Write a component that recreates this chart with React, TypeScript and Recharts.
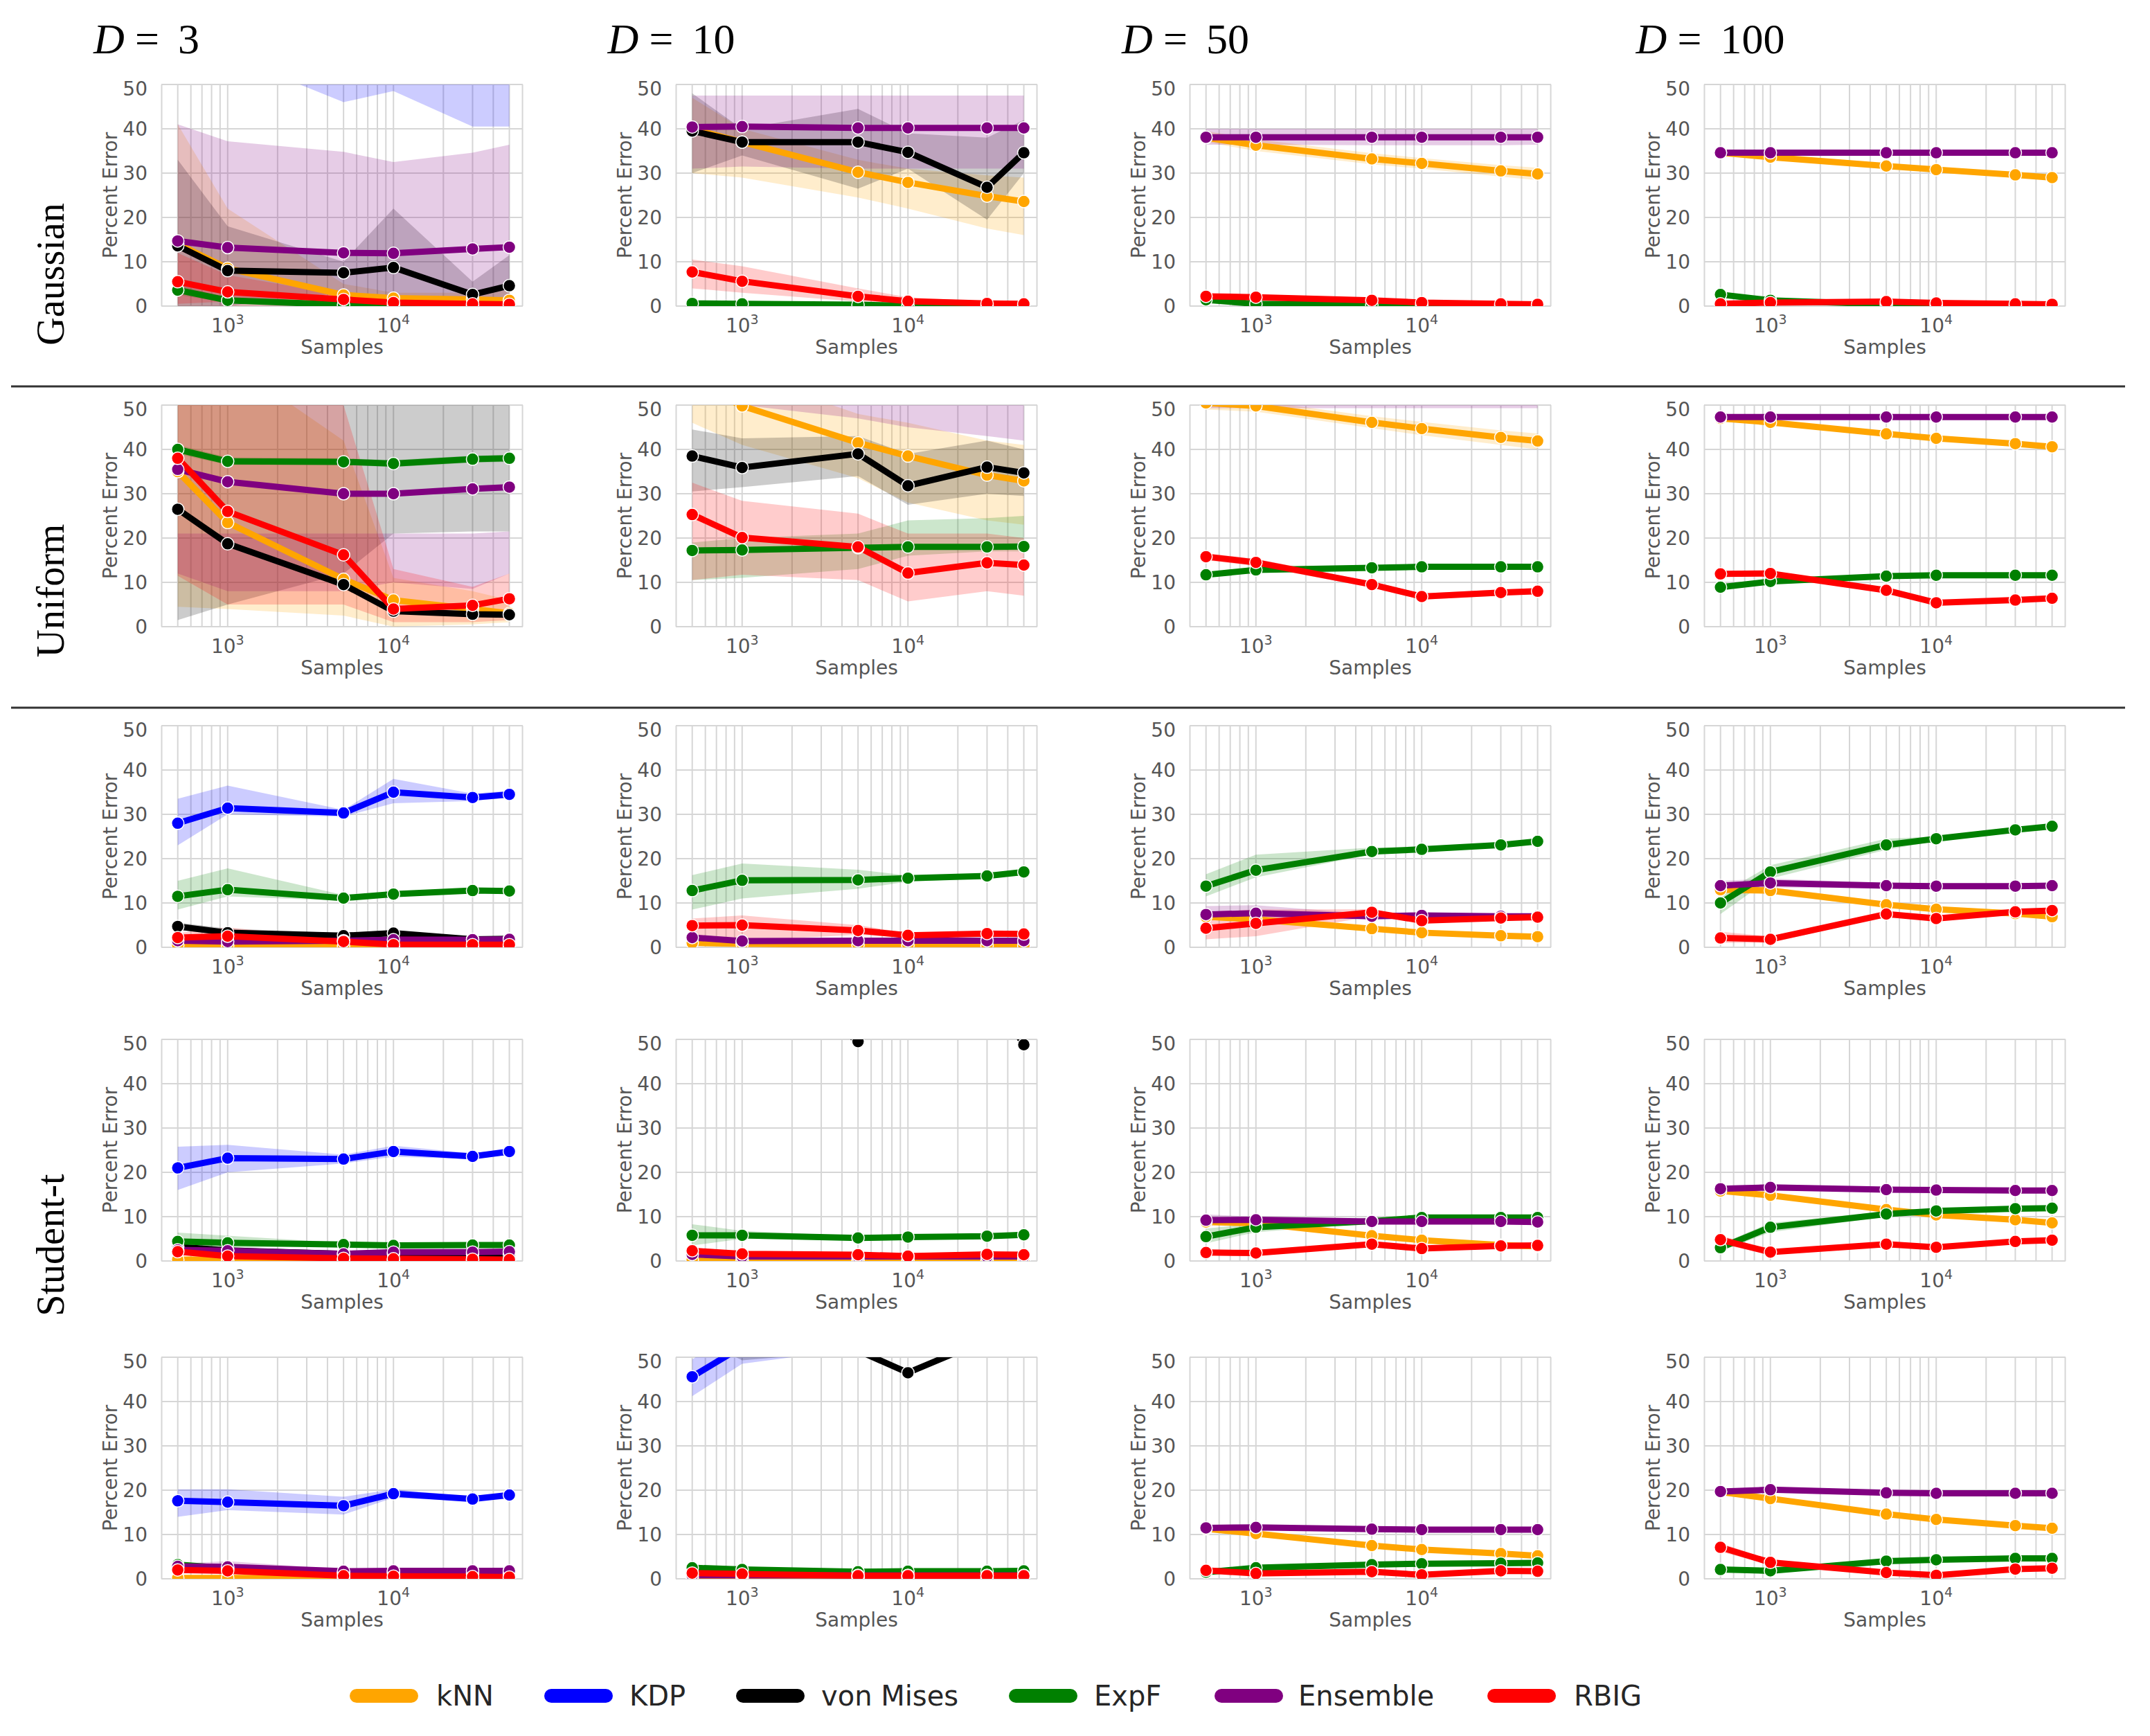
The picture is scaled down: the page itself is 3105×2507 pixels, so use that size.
import { ComposedChart, Line, Area, XAxis, YAxis, CartesianGrid } from 'recharts'

// sample sizes on the x axis
const samples = [500, 1000, 5000, 10000, 30000, 50000]

// every point is [mean, low, high] (band), or [mean] when no band shows
type Pts = number[][]
type PanelData = { knn?: Pts; kdp?: Pts; vm?: Pts; expf?: Pts; ens?: Pts; rbig?: Pts }

// ---- Gaussian ----
const g3: PanelData = {
    knn: [[14, 0, 41], [8.5, 0, 22], [2.5, 0, 5], [1.8, 0, 3], [1.5, 0, 3], [1.3, 0, 3.5]],
    kdp: [[85, 70, 100], [72, 56.6, 90], [62, 46, 80], [64, 48.5, 82], [58, 40.5, 78], [58, 40.5, 78]],
    vm: [[13.6, 0, 33], [8, 0, 18], [7.5, 3, 10], [8.7, 0, 22], [2.6, 0, 5.5], [4.6, 0, 11.5]],
    expf: [[3.6, 2.5, 4.8], [1.3, 0.8, 1.8], [0.3, 0, 0.6], [0.1, 0, 0.3], [0.1, 0, 0.2], [0.1, 0, 0.2]],
    ens: [[14.7, 0, 41], [13.2, 0, 37.2], [12, 0, 34.8], [11.9, 0, 32.5], [12.9, 0, 34.6], [13.3, 0, 36.4]],
    rbig: [[5.5, 0.5, 12], [3.2, 1, 7], [1.5, 0.8, 2.5], [0.8, 0.3, 1.4], [0.5, 0.2, 0.9], [0.4, 0.1, 0.7]],
}
const g10: PanelData = {
    knn: [[40, 30, 47], [37, 29, 40], [30.2, 24.5, 33], [27.9, 22, 31], [24.8, 17.5, 29.5], [23.6, 16, 29]],
    vm: [[39.5, 30, 48], [37, 34, 40], [37, 26.5, 44.5], [34.7, 31, 39], [26.8, 19.5, 38], [34.6, 30, 42]],
    expf: [[0.6, 0.2, 1], [0.5, 0.2, 0.8], [0.3, 0, 0.6], [0.1, 0, 0.3], [0.1, 0, 0.2], [0.1, 0, 0.2]],
    ens: [[40.4, 31, 47.5], [40.5, 31.5, 47.5], [40.2, 31, 47.5], [40.2, 31, 47.5], [40.2, 31, 47.5], [40.2, 31, 47.5]],
    rbig: [[7.7, 4, 10.5], [5.6, 3, 9], [2.2, 1, 4], [1.1, 0.5, 2], [0.6, 0.2, 1], [0.5, 0.2, 0.8]],
}
const g50: PanelData = {
    knn: [[38, 37, 39.5], [36.3, 35, 37.6], [33.2, 32, 34.5], [32.2, 31, 33.4], [30.5, 29.2, 31.8], [29.8, 28.4, 31.2]],
    expf: [[1.4, 1, 1.9], [0.5, 0.2, 0.8], [0.3, 0.1, 0.5], [0.1, 0, 0.3], [0.1, 0, 0.2], [0.1, 0, 0.2]],
    ens: [[38.1, 36.4, 40], [38.1, 36.4, 40], [38.1, 36.3, 40], [38.1, 36.3, 40], [38.1, 36.3, 40], [38.1, 36.4, 40]],
    rbig: [[2.2, 1.6, 2.8], [2, 1.4, 2.6], [1.3, 0.9, 1.7], [0.8, 0.5, 1.1], [0.5, 0.3, 0.7], [0.4, 0.2, 0.6]],
}
const g100: PanelData = {
    knn: [[34.6, 34, 35.2], [33.6, 33, 34.2], [31.6, 31, 32.2], [30.8, 30.2, 31.4], [29.6, 29, 30.2], [29, 28.4, 29.6]],
    expf: [[2.6, 2, 3.2], [1.3, 0.9, 1.7], [0.4, 0.2, 0.6], [0.2, 0.1, 0.4], [0.1, 0, 0.3], [0.1, 0, 0.2]],
    ens: [[34.6, 33.9, 35.3], [34.6, 33.9, 35.3], [34.6, 33.9, 35.3], [34.6, 33.9, 35.3], [34.6, 33.9, 35.3], [34.6, 33.9, 35.3]],
    rbig: [[0.5, 0.3, 0.8], [0.8, 0.5, 1.1], [1, 0.7, 1.3], [0.7, 0.5, 0.9], [0.5, 0.3, 0.7], [0.4, 0.2, 0.6]],
}

// ---- Uniform ----
const u3: PanelData = {
    knn: [[35, 4.5, 60], [23.5, 4, 60], [10.7, 2.5, 42], [6, 0, 11], [4, 0.5, 8], [3, 1, 6]],
    vm: [[26.5, 1.5, 60], [18.7, 5, 60], [9.5, 12, 60], [3.5, 21, 60], [2.8, 21.5, 60], [2.7, 21.5, 60]],
    expf: [[40, 39, 41], [37.3, 36.5, 38.2], [37.2, 36.5, 38], [36.8, 36, 37.6], [37.8, 37, 38.6], [38, 37.2, 38.8]],
    ens: [[35.5, 12, 21], [32.7, 8, 21], [30, 8, 21], [30, 10, 21], [31.1, 8.5, 21], [31.5, 12, 21.5]],
    rbig: [[38, 11.5, 60], [26, 5, 60], [16.2, 5, 50], [4, 1, 13], [4.8, 1, 9], [6.3, 1.5, 12]],
}
const u10: PanelData = {
    knn: [[55, 46, 62], [49.8, 41, 57], [41.5, 33.5, 48], [38.5, 28, 46], [34.2, 24, 42], [32.9, 23, 41]],
    vm: [[38.5, 30.5, 44.5], [35.9, 31.5, 42.5], [39, 34, 43], [31.8, 27.5, 39], [36, 30, 42], [34.7, 29.5, 40]],
    expf: [[17.2, 10.5, 19], [17.3, 11, 20], [17.8, 13, 21], [18, 16, 24], [18, 17, 24.5], [18.1, 17, 25]],
    ens: [[65, 55, 80], [63, 50, 78], [62, 47, 76], [62, 45, 76], [62, 43, 76], [62, 42, 76]],
    rbig: [[25.3, 10.5, 32.5], [20.1, 11.7, 28.4], [18, 10.5, 25.5], [12.1, 5.7, 21], [14.4, 8, 21], [13.9, 7, 20]],
}
const u50: PanelData = {
    knn: [[50.5, 49, 52], [49.8, 48.5, 51], [46.1, 44.8, 47.5], [44.7, 43.2, 46.2], [42.7, 41, 44.3], [41.9, 40, 43.6]],
    expf: [[11.7, 11.2, 12.2], [12.8, 12.3, 13.3], [13.3, 12.8, 13.8], [13.5, 13, 14], [13.5, 13, 14], [13.5, 13, 14]],
    ens: [[52, 49.3, 55], [52, 49.3, 55], [52, 49.3, 55], [52, 49.3, 55], [52, 49.3, 55], [52, 49.3, 55]],
    rbig: [[15.8, 15, 16.6], [14.5, 13.7, 15.3], [9.5, 8.8, 10.2], [6.8, 6.1, 7.5], [7.7, 7, 8.4], [8, 7.3, 8.7]],
}
const u100: PanelData = {
    knn: [[47, 46.5, 47.5], [46.1, 45.6, 46.6], [43.5, 43, 44], [42.5, 42, 43], [41.3, 40.8, 41.8], [40.6, 40.1, 41.1]],
    expf: [[8.9, 8.4, 9.4], [10.2, 9.7, 10.7], [11.4, 10.9, 11.9], [11.6, 11.1, 12.1], [11.6, 11.1, 12.1], [11.6, 11.1, 12.1]],
    ens: [[47.3, 46.8, 47.8], [47.3, 46.8, 47.8], [47.3, 46.8, 47.8], [47.3, 46.8, 47.8], [47.3, 46.8, 47.8], [47.3, 46.8, 47.8]],
    rbig: [[11.9, 11.4, 12.4], [12, 11.5, 12.5], [8.2, 7.7, 8.7], [5.4, 4.9, 5.9], [6, 5.5, 6.5], [6.4, 5.9, 6.9]],
}

// ---- Student-t (three rows) ----
const sa3: PanelData = {
    knn: [[0.5, 0, 1], [0.4, 0, 0.8], [0.3, 0, 0.6], [0.2, 0, 0.5], [0.2, 0, 0.4], [0.2, 0, 0.4]],
    kdp: [[28, 23, 33.5], [31.4, 30, 36.5], [30.3, 29.5, 31], [35, 32.5, 38], [33.8, 33, 34.7], [34.5, 33.8, 35.3]],
    vm: [[4.7, 4, 5.6], [3.3, 2.6, 4.2], [2.6, 2, 3.2], [3.2, 2.5, 3.9], [1.8, 1.4, 2.2], [1.9, 1.5, 2.3]],
    expf: [[11.5, 8.5, 15], [13, 11.5, 17.8], [11.1, 10.5, 11.8], [12, 11.5, 12.5], [12.8, 12.3, 13.3], [12.7, 12.2, 13.2]],
    ens: [[1.5, 1, 2], [1.3, 0.9, 1.8], [1.5, 1.1, 1.9], [1.7, 1.3, 2.1], [1.7, 1.3, 2.1], [1.8, 1.4, 2.2]],
    rbig: [[2.2, 1.2, 3.2], [2.5, 1, 4.5], [1.3, 0.8, 1.8], [0.6, 0.3, 0.9], [0.6, 0.3, 0.9], [0.6, 0.3, 0.9]],
}
const sa10: PanelData = {
    knn: [[1, 0.5, 1.5], [0.8, 0.4, 1.2], [0.6, 0.3, 0.9], [0.5, 0.2, 0.8], [0.4, 0.2, 0.6], [0.4, 0.2, 0.6]],
    expf: [[12.8, 8.5, 16.3], [15.1, 11, 18.9], [15.2, 13.2, 17.5], [15.6, 14.8, 16.2], [16.1, 15.6, 16.6], [17, 16.5, 17.5]],
    ens: [[2.2, 1.5, 3], [1.4, 1, 1.8], [1.5, 1.1, 1.9], [1.5, 1.1, 1.9], [1.5, 1.1, 1.9], [1.5, 1.1, 1.9]],
    rbig: [[4.9, 2, 6.5], [5, 1.5, 7.2], [3.8, 2.8, 5], [2.7, 2.2, 3.2], [3.1, 2.6, 3.6], [3, 2.5, 3.5]],
}
const sa50: PanelData = {
    knn: [[6.9, 6.2, 7.6], [6.3, 5.6, 7], [4.2, 3.6, 4.8], [3.3, 2.8, 3.8], [2.6, 2.1, 3.1], [2.4, 1.9, 2.9]],
    expf: [[13.8, 11.5, 16.5], [17.4, 15.8, 20.9], [21.6, 21, 22.5], [22.1, 21.6, 22.6], [23.1, 22.6, 23.6], [23.9, 23.4, 24.4]],
    ens: [[7.4, 6, 9.3], [7.7, 6.5, 9.5], [7, 6.5, 7.5], [7.2, 6.7, 7.7], [7, 6.5, 7.5], [7, 6.5, 7.5]],
    rbig: [[4.3, 1.8, 8], [5.4, 2.5, 8.5], [7.9, 7, 8.6], [6, 5.5, 6.5], [6.6, 6.1, 7.1], [6.8, 6.3, 7.3]],
}
const sa100: PanelData = {
    knn: [[13, 12.2, 13.8], [12.8, 12, 13.6], [9.6, 9, 10.2], [8.6, 8, 9.2], [7.6, 7, 8.2], [6.9, 6.3, 7.5]],
    expf: [[10, 7.5, 12], [17, 15.5, 18.5], [23.1, 22, 24.5], [24.5, 24, 25], [26.5, 26, 27], [27.3, 26.8, 27.8]],
    ens: [[13.9, 13, 15], [14.5, 13.5, 15.5], [13.9, 13.3, 14.5], [13.8, 13.2, 14.4], [13.8, 13.2, 14.4], [13.9, 13.3, 14.5]],
    rbig: [[2.1, 1, 3.5], [1.8, 1, 2.5], [7.5, 7, 8], [6.5, 6, 7], [8, 7.5, 8.5], [8.3, 7.8, 8.8]],
}
const sb3: PanelData = {
    knn: [[0.3, 0, 0.6], [0.3, 0, 0.5], [0.2, 0, 0.4], [0.2, 0, 0.4], [0.2, 0, 0.4], [0.2, 0, 0.4]],
    kdp: [[21, 16, 25.8], [23.2, 20, 26.2], [23, 22, 24], [24.7, 23.5, 26], [23.6, 23, 24.3], [24.7, 24, 25.3]],
    vm: [[3.2, 2.6, 3.8], [2.4, 1.9, 2.9], [1.6, 1.2, 2], [1.6, 1.2, 2], [1.5, 1.1, 1.9], [1.5, 1.1, 1.9]],
    expf: [[4.4, 3, 6.4], [4.1, 3, 5.7], [3.7, 3.3, 4.1], [3.5, 3.1, 3.9], [3.6, 3.2, 4], [3.6, 3.2, 4]],
    ens: [[2.5, 2, 3], [2.3, 1.8, 2.8], [1.6, 1.2, 2], [2, 1.6, 2.4], [2, 1.6, 2.4], [2.1, 1.7, 2.5]],
    rbig: [[2.1, 1.5, 2.7], [1.1, 0.7, 1.5], [0.6, 0.3, 0.9], [0.5, 0.2, 0.8], [0.4, 0.2, 0.6], [0.3, 0.1, 0.5]],
}
const sb10: PanelData = {
    knn: [[0.3, 0, 0.6], [0.3, 0, 0.5], [0.2, 0, 0.4], [0.2, 0, 0.4], [0.2, 0, 0.4], [0.2, 0, 0.4]],
    vm: [[75], [70], [49.5], [68], [62], [48.8]],
    expf: [[5.8, 3.5, 8.3], [5.8, 5, 6.8], [5.2, 4.8, 5.6], [5.4, 5, 5.8], [5.6, 5.2, 6], [5.9, 5.5, 6.3]],
    ens: [[1.5, 1, 2], [1, 0.7, 1.3], [1, 0.7, 1.3], [1, 0.7, 1.3], [1, 0.7, 1.3], [1, 0.7, 1.3]],
    rbig: [[2.3, 1.5, 3.1], [1.6, 1.1, 2.1], [1.4, 1, 1.8], [1.1, 0.8, 1.4], [1.5, 1.1, 1.9], [1.4, 1, 1.8]],
}
const sb50: PanelData = {
    knn: [[8.8, 8.2, 9.4], [8.5, 7.9, 9.1], [5.7, 5.2, 6.2], [4.7, 4.2, 5.2], [3.6, 3.1, 4.1], [3.3, 2.8, 3.8]],
    expf: [[5.5, 4, 7.3], [7.6, 6.5, 8.5], [9, 8.5, 9.5], [9.8, 9.4, 10.2], [9.8, 9.4, 10.2], [9.8, 9.4, 10.2]],
    ens: [[9.2, 8, 10.5], [9.3, 8.6, 10], [8.9, 8.4, 9.4], [8.9, 8.4, 9.4], [8.9, 8.4, 9.4], [8.8, 8.3, 9.3]],
    rbig: [[1.9, 1.4, 2.4], [1.8, 1.3, 2.3], [3.8, 3.3, 4.3], [2.8, 2.3, 3.3], [3.4, 2.9, 3.9], [3.5, 3, 4]],
}
const sb100: PanelData = {
    knn: [[15.8, 15.2, 16.4], [14.8, 14.2, 15.4], [11.6, 11, 12.2], [10.4, 9.8, 11], [9.3, 8.7, 9.9], [8.6, 8, 9.2]],
    expf: [[3, 2.2, 3.8], [7.6, 6.5, 8.6], [10.6, 10, 11.2], [11.3, 10.8, 11.8], [11.8, 11.3, 12.3], [11.9, 11.4, 12.4]],
    ens: [[16.3, 15.6, 17], [16.6, 15.9, 17.3], [16.1, 15.6, 16.6], [16, 15.5, 16.5], [15.9, 15.4, 16.4], [15.9, 15.4, 16.4]],
    rbig: [[4.8, 3.8, 5.8], [2, 1.5, 2.5], [3.8, 3.3, 4.3], [3.1, 2.6, 3.6], [4.4, 3.9, 4.9], [4.7, 4.2, 5.2]],
}
const sc3: PanelData = {
    knn: [[0.2, 0, 0.4], [0.2, 0, 0.4], [0.2, 0, 0.4], [0.2, 0, 0.4], [0.2, 0, 0.4], [0.2, 0, 0.4]],
    kdp: [[17.6, 14, 20.2], [17.3, 15.5, 20.2], [16.5, 14.5, 18.5], [19.2, 18.3, 20.2], [18, 17.5, 18.5], [18.9, 18.5, 19.3]],
    vm: [[2.5, 2, 3], [2.2, 1.7, 2.7], [1.2, 0.8, 1.6], [1.2, 0.8, 1.6], [1.1, 0.7, 1.5], [1.1, 0.7, 1.5]],
    expf: [[3.2, 2.7, 3.7], [2.4, 1.9, 2.9], [1.4, 1, 1.8], [1.5, 1.1, 1.9], [1.4, 1, 1.8], [1.4, 1, 1.8]],
    ens: [[2.8, 2.2, 3.4], [2.7, 1.5, 4], [1.7, 1.3, 2.1], [1.8, 1.4, 2.2], [1.8, 1.4, 2.2], [1.8, 1.4, 2.2]],
    rbig: [[2, 1.5, 2.5], [1.8, 1.3, 2.3], [0.7, 0.4, 1], [0.6, 0.3, 0.9], [0.5, 0.2, 0.8], [0.4, 0.1, 0.7]],
}
const sc10: PanelData = {
    knn: [[0.3, 0, 0.6], [0.3, 0, 0.5], [0.2, 0, 0.4], [0.2, 0, 0.4], [0.2, 0, 0.4], [0.2, 0, 0.4]],
    kdp: [[45.6, 41.2, 49.5], [52.4, 48.5, 57], [56, 52, 60], [56, 52, 60], [56, 52, 60], [56, 52, 60]],
    vm: [[62, 55, 70], [58, 49.3, 66], [51.5, 51.5, 60], [46.5, 51, 60], [54, 52, 60], [55, 52, 60]],
    expf: [[2.5, 2, 3], [2.1, 1.6, 2.6], [1.6, 1.2, 2], [1.7, 1.3, 2.1], [1.7, 1.3, 2.1], [1.8, 1.4, 2.2]],
    ens: [[0.8, 0.5, 1.1], [0.8, 0.5, 1.1], [0.8, 0.5, 1.1], [0.8, 0.5, 1.1], [0.8, 0.5, 1.1], [0.8, 0.5, 1.1]],
    rbig: [[1.3, 0.8, 1.8], [1.1, 0.7, 1.5], [0.7, 0.4, 1], [0.7, 0.4, 1], [0.7, 0.4, 1], [0.7, 0.4, 1]],
}
const sc50: PanelData = {
    knn: [[11.3, 10.7, 11.9], [10.2, 9.6, 10.8], [7.5, 6.9, 8.1], [6.6, 6, 7.2], [5.7, 5.1, 6.3], [5.2, 4.6, 5.8]],
    expf: [[1.5, 1, 2], [2.5, 2, 3], [3.2, 2.8, 3.6], [3.4, 3, 3.8], [3.5, 3.1, 3.9], [3.6, 3.2, 4]],
    ens: [[11.5, 10.9, 12.1], [11.6, 11, 12.2], [11.2, 10.7, 11.7], [11.1, 10.6, 11.6], [11.1, 10.6, 11.6], [11.1, 10.6, 11.6]],
    rbig: [[1.9, 1.2, 2.6], [1.2, 0.8, 1.6], [1.6, 1.2, 2], [0.9, 0.6, 1.2], [1.8, 1.4, 2.2], [1.7, 1.3, 2.1]],
}
const sc100: PanelData = {
    knn: [[19.6, 19, 20.2], [18.1, 17.5, 18.7], [14.6, 14, 15.2], [13.4, 12.8, 14], [12, 11.4, 12.6], [11.4, 10.8, 12]],
    expf: [[2.1, 1.6, 2.6], [1.8, 1.3, 2.3], [4, 3.5, 4.5], [4.3, 3.8, 4.8], [4.6, 4.1, 5.1], [4.6, 4.1, 5.1]],
    ens: [[19.7, 19.1, 20.3], [20.1, 19.5, 20.7], [19.4, 18.9, 19.9], [19.3, 18.8, 19.8], [19.3, 18.8, 19.8], [19.3, 18.8, 19.8]],
    rbig: [[7.1, 6.1, 8.1], [3.7, 3.2, 4.2], [1.4, 1, 1.8], [0.8, 0.5, 1.1], [2.2, 1.8, 2.6], [2.4, 2, 2.8]],
}

const grid = [
    [g3, g10, g50, g100],
    [u3, u10, u50, u100],
    [sa3, sa10, sa50, sa100],
    [sb3, sb10, sb50, sb100],
    [sc3, sc10, sc50, sc100],
]

const dims = ['3', '10', '50', '100']
const rowNames = [{ name: 'Gaussian', y: 396 }, { name: 'Uniform', y: 853 }, { name: 'Student-t', y: 1798 }]

const seriesKeys = ['knn', 'kdp', 'vm', 'expf', 'ens', 'rbig'] as const
const seriesNames = ['kNN', 'KDP', 'von Mises', 'ExpF', 'Ensemble', 'RBIG']
const seriesColors = ['#FFA500', '#0000FF', '#000000', '#008000', '#800080', '#FF0000']

const yTicks = [0, 10, 20, 30, 40, 50]
const xTicks = [1000, 10000]
const minorTicks = [400, 500, 600, 700, 800, 900, 1000, 2000, 3000, 4000, 5000, 6000, 7000, 8000, 9000,
    10000, 20000, 30000, 40000, 50000, 60000]

// layout (px)
const plotLefts = [233, 975.5, 1718, 2460.5]
const plotTops = [122, 585, 1048, 1501, 1960]
const PLOT_W = 522
const PLOT_H = 320
const Y_W = 140
const X_H = 90
const M_TOP = 10
const M_RIGHT = 20

const FONT = "'DejaVu Sans', sans-serif"
const SERIF = "'Liberation Serif', 'DejaVu Serif', serif"
const TXT = '#555'

function LogTick(props: any) {
    const { x, y, payload } = props
    const exp = Math.round(Math.log10(payload.value))
    return (
        <text x={x} y={y + 38} textAnchor="middle" fill={TXT} fontSize={28} fontFamily={FONT}>
            10<tspan dy={-12} fontSize={19}>{exp}</tspan>
        </text>
    )
}

function Panel({ data, left, top }: { data: PanelData; left: number; top: number }) {
    const rows = samples.map((s, i) => {
        const r: any = { s }
        seriesKeys.forEach(k => {
            const p = data[k]
            if (!p) return
            r[k] = p[i][0]
            if (p[i].length === 3) r[k + 'Band'] = [p[i][1], p[i][2]]
        })
        return r
    })
    const present = seriesKeys.map((k, i) => ({ k, i })).filter(o => data[o.k])

    return (
        <div style={{ position: 'absolute', left: left - Y_W, top: top - M_TOP }}>
            <ComposedChart
                width={Y_W + PLOT_W + M_RIGHT}
                height={M_TOP + PLOT_H + X_H}
                data={rows}
                margin={{ top: M_TOP, right: M_RIGHT, left: 0, bottom: 0 }}
            >
                <CartesianGrid
                    stroke="#d6d6d6"
                    strokeWidth={2}
                    verticalValues={minorTicks}
                />
                <XAxis
                    dataKey="s"
                    type="number"
                    scale="log"
                    domain={[Math.pow(10, 2.6), Math.pow(10, 4.78)]}
                    allowDataOverflow
                    ticks={xTicks}
                    interval={0}
                    tick={<LogTick />}
                    tickLine={false}
                    axisLine={false}
                    tickSize={0}
                    tickMargin={0}
                    height={X_H}
                    label={{ value: 'Samples', position: 'insideBottom', offset: 21, fill: TXT, fontSize: 28, fontFamily: FONT }}
                />
                <YAxis
                    type="number"
                    domain={[0, 50]}
                    allowDataOverflow
                    ticks={yTicks}
                    width={Y_W}
                    tickLine={false}
                    axisLine={false}
                    tickSize={0}
                    tickMargin={20}
                    tick={{ fill: TXT, fontSize: 28, fontFamily: FONT }}
                    label={{ value: 'Percent Error', angle: -90, position: 'center', dx: -4, fill: TXT, fontSize: 28, fontFamily: FONT }}
                />
                {present.filter(o => data[o.k]![0].length === 3).map(o => (
                    <Area
                        key={o.k + 'Band'}
                        type="linear"
                        dataKey={o.k + 'Band'}
                        stroke="none"
                        fill={seriesColors[o.i]}
                        fillOpacity={0.2}
                        activeDot={false}
                        isAnimationActive={false}
                    />
                ))}
                {present.map(o => (
                    <Line
                        key={o.k}
                        type="linear"
                        dataKey={o.k}
                        stroke={seriesColors[o.i]}
                        strokeWidth={9}
                        dot={{ r: 9, fill: seriesColors[o.i], stroke: '#fff', strokeWidth: 1.5 }}
                        activeDot={false}
                        isAnimationActive={false}
                    />
                ))}
            </ComposedChart>
        </div>
    )
}

const legendSwatchX = [505, 786, 1063, 1457, 1754, 2148]
const legendTextX = [630, 909, 1186, 1580, 1875, 2273]

export default function App() {
    return (
        <div style={{ position: 'absolute', left: 0, top: 0, width: 3105, height: 2507, background: '#fff' }}>
            {grid.map((row, r) => row.map((d, c) => (
                <Panel key={r + '-' + c} data={d} left={plotLefts[c]} top={plotTops[r]} />
            )))}
            <svg width={3105} height={2507} style={{ position: 'absolute', left: 0, top: 0, pointerEvents: 'none' }}>
                {dims.map((d, c) => (
                    <text key={d} transform={`translate(${135 + 742.5 * c},77)`} fontFamily={SERIF} fontSize={62} fill="#000">
                        <tspan x={0} fontStyle="italic">D</tspan>
                        <tspan x={60}>=</tspan>
                        <tspan x={122}>{d}</tspan>
                    </text>
                ))}
                {rowNames.map(rn => (
                    <text key={rn.name} transform={`translate(92,${rn.y}) rotate(-90)`} textAnchor="middle"
                        fontFamily={SERIF} fontSize={56} fill="#000">{rn.name}</text>
                ))}
                <line x1={16} x2={3069} y1={558} y2={558} stroke="#333" strokeWidth={3} />
                <line x1={16} x2={3069} y1={1022} y2={1022} stroke="#333" strokeWidth={3} />
                {seriesNames.map((n, i) => (
                    <g key={n}>
                        <line x1={legendSwatchX[i] + 10} x2={legendSwatchX[i] + 89} y1={2449} y2={2449}
                            stroke={seriesColors[i]} strokeWidth={20} strokeLinecap="round" />
                        <text x={legendTextX[i]} y={2463} fontFamily={FONT} fontSize={40} fill="#262626">{n}</text>
                    </g>
                ))}
            </svg>
        </div>
    )
}
